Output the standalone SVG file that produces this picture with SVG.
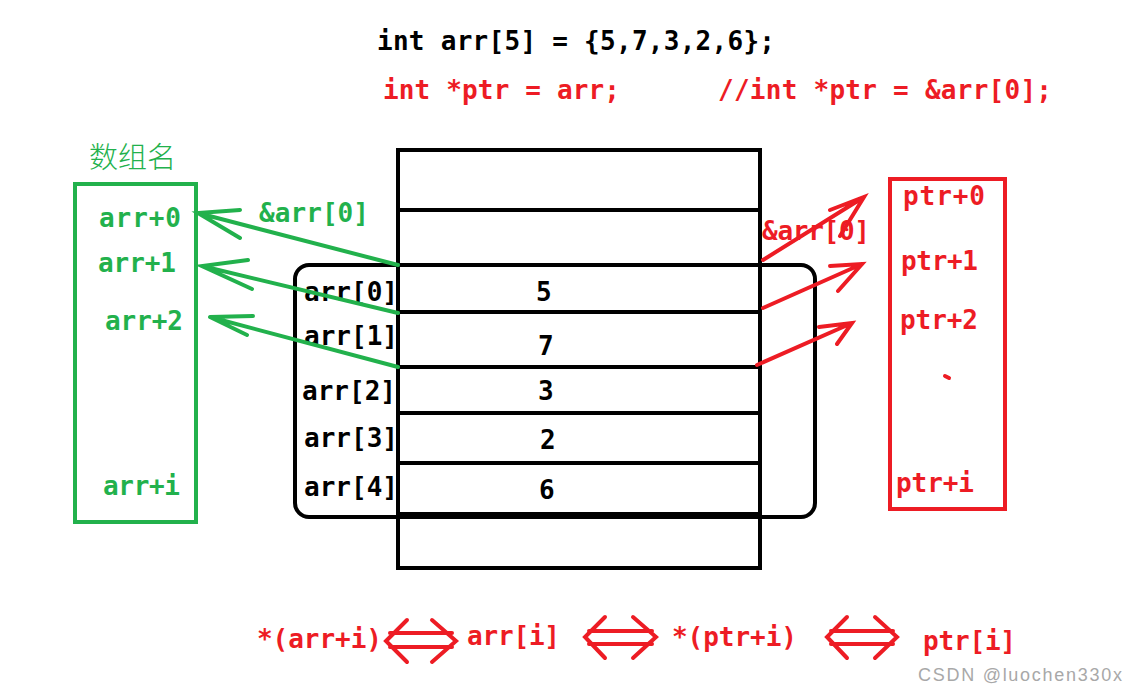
<svg xmlns="http://www.w3.org/2000/svg" width="1126" height="694" viewBox="0 0 1126 694">
<style>
.t{font-family:"DejaVu Sans Mono","Liberation Mono",monospace;font-size:26px;font-weight:bold}
.k{fill:#000}.g{fill:#22b14c}.r{fill:#ed1c24}
.ln{stroke:#000;stroke-width:4;fill:none}
.ga{stroke:#22b14c;stroke-width:4;fill:none;stroke-linecap:round}
.ra{stroke:#ed1c24;stroke-width:4;fill:none;stroke-linecap:round}
</style>
<rect width="1126" height="694" fill="#fff"/>
<g id="code">
<text class="t k" x="377" y="50" textLength="398">int arr[5] = {5,7,3,2,6};</text>
<text class="t r" x="383" y="99" textLength="237">int *ptr = arr;</text>
<text class="t r" x="718" y="99" textLength="334">//int *ptr = &amp;arr[0];</text>
</g>
<g id="memory">
<rect x="295" y="265" width="520" height="252" rx="14" class="ln" stroke-width="3.5"/>
<line x1="398" y1="148" x2="398" y2="570" class="ln"/>
<line x1="760" y1="148" x2="760" y2="570" class="ln"/>
<line x1="396" y1="150" x2="762" y2="150" class="ln"/>
<line x1="396" y1="210" x2="762" y2="210" class="ln"/>
<line x1="396" y1="265" x2="762" y2="265" class="ln"/>
<line x1="396" y1="312" x2="762" y2="312" class="ln"/>
<line x1="396" y1="367" x2="762" y2="367" class="ln"/>
<line x1="396" y1="413" x2="762" y2="413" class="ln"/>
<line x1="396" y1="463" x2="762" y2="463" class="ln"/>
<line x1="396" y1="514" x2="762" y2="514" class="ln" stroke-width="7"/>
<line x1="396" y1="568" x2="762" y2="568" class="ln"/>
<text class="t k" x="304" y="301" textLength="94">arr[0]</text>
<text class="t k" x="304" y="345" textLength="94">arr[1]</text>
<text class="t k" x="302" y="400" textLength="94">arr[2]</text>
<text class="t k" x="304" y="447" textLength="94">arr[3]</text>
<text class="t k" x="304" y="496" textLength="94">arr[4]</text>
<text class="t k" x="536" y="301">5</text>
<text class="t k" x="538" y="355">7</text>
<text class="t k" x="538" y="400">3</text>
<text class="t k" x="540" y="449">2</text>
<text class="t k" x="539" y="499">6</text>
</g>
<g id="arrname">
<text x="89" y="168" font-family="'Noto Sans CJK SC',sans-serif" font-size="29" font-weight="300" class="g">数组名</text>
<rect x="75" y="184" width="121" height="338" fill="none" stroke="#22b14c" stroke-width="4"/>
<text class="t g" x="99" y="227" textLength="82">arr+0</text>
<text class="t g" x="98" y="272" textLength="78">arr+1</text>
<text class="t g" x="105" y="330" textLength="78">arr+2</text>
<text class="t g" x="103" y="495" textLength="77">arr+i</text>
<text class="t g" x="259" y="222" textLength="110">&amp;arr[0]</text>
</g>
<g id="ptrbox">
<rect x="890" y="179" width="115" height="330" fill="none" stroke="#ed1c24" stroke-width="4"/>
<text class="t r" x="903" y="205" textLength="82">ptr+0</text>
<text class="t r" x="901" y="270" textLength="77">ptr+1</text>
<text class="t r" x="900" y="329" textLength="78">ptr+2</text>
<text class="t r" x="896" y="492" textLength="78">ptr+i</text>
<line x1="945" y1="376" x2="949" y2="378" class="ra" stroke-width="3"/>
<text class="t r" x="762" y="240" textLength="108">&amp;arr[0]</text>
</g>
<g id="connectors">
<path class="ga" d="M398 265 L198 213 M240 210 L198 213 L240 238"/>
<path class="ga" d="M398 313 L202 266 M248 260 L202 266 L252 289"/>
<path class="ga" d="M398 367 L210 317 M253 316 L210 317 L247 335"/>
<path class="ra" d="M763 260 L864 197 M830 210 L864 197 L840 236"/>
<path class="ra" d="M763 308 L862 264 M830 266 L862 264 L838 291"/>
<path class="ra" d="M757 365 L852 323 M819 327 L852 323 L837 344"/>
</g>
<g id="equiv">
<text class="t r" x="257" y="648" textLength="125">*(arr+i)</text>
<text class="t r" x="467" y="645" textLength="93">arr[i]</text>
<text class="t r" x="672" y="646" textLength="125">*(ptr+i)</text>
<text class="t r" x="923" y="650" textLength="93">ptr[i]</text>
<path class="ra" d="M407 620 L386 641 L407 662 M432 620 L456 641 L432 662 M390 633 L452 633 M390 647 L452 647"/>
<path class="ra" d="M605 617 L585 637 L605 658 M633 617 L656 637 L633 658 M589 631 L652 631 M589 644 L652 644"/>
<path class="ra" d="M847 617 L827 637 L847 658 M875 617 L897 637 L875 658 M831 631 L893 631 M831 644 L893 644"/>
</g>
<text x="918" y="681" font-family="'Liberation Sans',Arial,sans-serif" font-size="18" fill="#a8a8a8" textLength="204">CSDN @luochen330x</text>
</svg>
